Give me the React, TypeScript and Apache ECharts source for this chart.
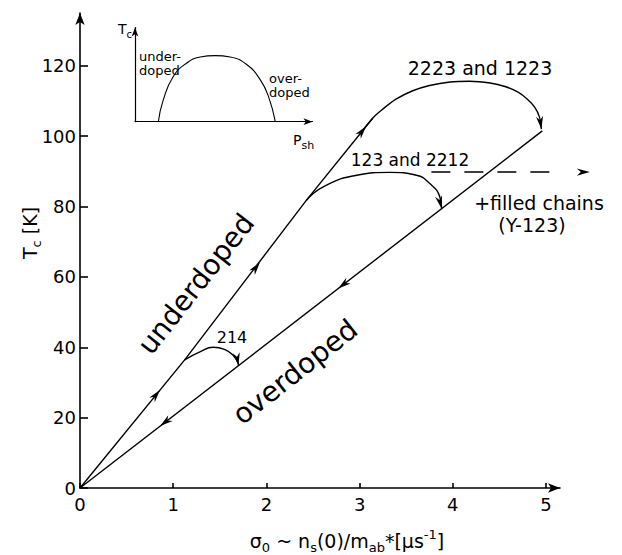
import React, { useEffect, useRef } from 'react';
import * as echarts from 'echarts';

const FONT = 'DejaVu Sans';

// axis ticks / labels
const xTicks = [0, 1, 2, 3, 4, 5];
const yTicks = [0, 20, 40, 60, 80, 100, 120];

// main lines [sigma0, Tc]
const underdopedLine = [[0, 0], [1.123, 36.4], [2.43, 81.8], [3.14, 105.1]];
const overdopedLine = [[4.96, 101.5], [0, 0]];
const curve2223 = [[3.0, 100.5], [3.14, 105.1], [3.24, 107.5], [3.39, 110.5], [3.57, 112.9], [3.75, 114.4], [3.97, 115.4], [4.18, 115.6], [4.40, 115.1], [4.56, 114.1], [4.70, 112.5], [4.80, 110.5], [4.88, 108.2], [4.93, 105.4], [4.95, 102.0]];
const curve123 = [[2.43, 81.8], [2.61, 85.6], [2.97, 88.9], [3.32, 89.7], [3.61, 88.9], [3.75, 86.6], [3.86, 82.8], [3.88, 79.4]];
const curve214 = [[1.123, 36.4], [1.286, 38.7], [1.43, 40.0], [1.55, 39.4], [1.64, 37.8], [1.695, 35.6], [1.70, 34.8]];
const filledChains = [[3.77, 89.8], [5.47, 89.8]];

// arrowheads: [tipX, tipY, fromX, fromY]
const arrowHeads = [
  [0.86, 27.9, 0, 0],
  [1.93, 64.1, 1.123, 36.4],
  [3.07, 102.8, 2.43, 81.8],
  [4.95, 102.0, 4.925, 106.7],
  [3.88, 79.4, 3.845, 83.2],
  [1.70, 34.8, 1.675, 38.6],
  [0.86, 17.6, 1.5, 30.7],
  [2.77, 56.7, 3.5, 71.6],
  [5.47, 89.8, 5.0, 89.8],
];

// inset: Tc vs P_sh dome (arbitrary units)
const insetCurve = [[1.28, 0], [1.55, 2.2], [2.1, 4.56], [2.84, 5.92], [3.57, 6.52], [4.4, 6.66], [5.22, 6.52], [6.14, 5.74], [6.87, 4.22], [7.32, 2.53], [7.69, 0]];

const lineSeries = (data: number[][], smooth: number | boolean, extra: any = {}) => ({
  type: 'line',
  xAxisIndex: 0,
  yAxisIndex: 0,
  data,
  smooth,
  symbol: 'none',
  clip: false,
  silent: true,
  lineStyle: { color: '#000', width: 1.4 },
  ...extra,
});

const rich = (m: number, s: number) => ({
  m: { fontSize: m, fontFamily: FONT, lineHeight: m + 7, verticalAlign: 'middle', color: '#000' },
  s: { fontSize: s, fontFamily: FONT, lineHeight: s + 2, verticalAlign: 'bottom', color: '#000' },
  p: { fontSize: s, fontFamily: FONT, lineHeight: s + 2, verticalAlign: 'top', color: '#000' },
});

const txt = (x: number, y: number, text: string, fontSize: number, extra: any = {}, styleExtra: any = {}) => ({
  type: 'text',
  x,
  y,
  silent: true,
  ...extra,
  style: {
    text,
    fontSize,
    fontFamily: FONT,
    fill: '#000',
    align: 'center',
    verticalAlign: 'middle',
    ...styleExtra,
  },
});

export default function App() {
  const ref = useRef<HTMLDivElement>(null);
  useEffect(() => {
    const chart = echarts.init(ref.current!, null, { renderer: 'svg' });
    const axisLineStyle = { color: '#000', width: 1.6 };
    const option: any = {
      animation: false,
      backgroundColor: '#fff',
      grid: [
        { left: 80, top: 13, width: 480, height: 475, containLabel: false, outerBoundsMode: 'none' },
        { left: 135, top: 27.5, width: 177.5, height: 94.2, containLabel: false, outerBoundsMode: 'none' },
      ],
      xAxis: [
        {
          type: 'value', gridIndex: 0, min: 0, max: 5.15,
          axisLine: { show: true, symbol: ['none', 'arrow'], symbolSize: [7, 12], lineStyle: axisLineStyle },
          axisTick: { show: true, inside: true, length: 5, customValues: xTicks, lineStyle: axisLineStyle },
          axisLabel: { show: true, customValues: xTicks, color: '#000', fontSize: 18, fontFamily: FONT, margin: 7 },
          splitLine: { show: false },
        },
        {
          type: 'value', gridIndex: 1, min: 0, max: 9.73,
          axisLine: { show: true, symbol: ['none', 'arrow'], symbolSize: [5, 9], lineStyle: { color: '#000', width: 1.2 } },
          axisTick: { show: false }, axisLabel: { show: false }, splitLine: { show: false },
        },
      ],
      yAxis: [
        {
          type: 'value', gridIndex: 0, min: 0, max: 135,
          axisLine: { show: true, symbol: ['none', 'arrow'], symbolSize: [7, 12], lineStyle: axisLineStyle },
          axisTick: { show: true, inside: true, length: 8, customValues: yTicks, lineStyle: axisLineStyle },
          axisLabel: { show: true, customValues: yTicks, color: '#000', fontSize: 18, fontFamily: FONT, margin: 4 },
          splitLine: { show: false },
        },
        {
          type: 'value', gridIndex: 1, min: 0, max: 9.5,
          axisLine: { show: true, symbol: ['none', 'arrow'], symbolSize: [5, 9], lineStyle: { color: '#000', width: 1.2 } },
          axisTick: { show: false }, axisLabel: { show: false }, splitLine: { show: false },
        },
      ],
      series: [
        lineSeries(underdopedLine, false),
        lineSeries(overdopedLine, false),
        lineSeries(curve2223, 0.3),
        lineSeries(curve123, 0.5),
        lineSeries(curve214, 0.5),
        lineSeries(filledChains, false, { lineStyle: { color: '#000', width: 1.4, type: [19, 14] } }),
        {
          type: 'line', xAxisIndex: 1, yAxisIndex: 1, data: insetCurve, smooth: 0.5,
          symbol: 'none', silent: true, lineStyle: { color: '#000', width: 1.1 },
        },
        {
          type: 'custom', xAxisIndex: 0, yAxisIndex: 0, clip: false, silent: true,
          data: arrowHeads,
          renderItem: (_p: any, api: any) => {
            const tip = api.coord([api.value(0), api.value(1)]);
            const from = api.coord([api.value(2), api.value(3)]);
            const dx = tip[0] - from[0];
            const dy = tip[1] - from[1];
            const len = Math.hypot(dx, dy) || 1;
            const ux = dx / len, uy = dy / len;
            const px = -uy, py = ux;
            const L = 13, W = 3.6, N = 9;
            return {
              type: 'polygon',
              shape: {
                points: [
                  [tip[0], tip[1]],
                  [tip[0] - L * ux + W * px, tip[1] - L * uy + W * py],
                  [tip[0] - N * ux, tip[1] - N * uy],
                  [tip[0] - L * ux - W * px, tip[1] - L * uy - W * py],
                ],
              },
              style: { fill: '#000' },
            };
          },
        },
      ],
      graphic: [
        txt(480, 68, '2223 and 1223', 19),
        txt(410, 160, '123 and 2212', 17),
        txt(539, 203, '+filled chains', 19),
        txt(532, 225, '(Y-123)', 19),
        txt(232, 337, '214', 16),
        txt(196, 284, 'underdoped', 28, { rotation: (51.8 * Math.PI) / 180 }),
        txt(295, 372, 'overdoped', 28, { rotation: (38.3 * Math.PI) / 180 }),
        txt(30, 233, '{m|T}{s|c}{m| [K]}', 19, { rotation: Math.PI / 2 }, { rich: rich(19, 13) }),
        txt(347, 541, '{m|σ}{s|0}{m| ~ n}{s|s}{m|(0)/m}{s|ab}{m|*[µs}{p|-1}{m|]}', 19, {}, { rich: rich(19, 13) }),
        txt(125, 29, '{m|T}{s|c}', 14, {}, { rich: rich(14, 10) }),
        txt(293, 140, '{m|P}{s|sh}', 14, {}, { rich: rich(14, 11), align: 'left' }),
        txt(139, 56, 'under-', 13, {}, { align: 'left' }),
        txt(139, 70.5, 'doped', 13, {}, { align: 'left' }),
        txt(269, 78, 'over-', 13, {}, { align: 'left' }),
        txt(269, 92, 'doped', 13, {}, { align: 'left' }),
      ],
    };
    chart.setOption(option);
    return () => chart.dispose();
  }, []);
  return <div ref={ref} style={{ position: 'absolute', left: 0, top: 0, width: 622, height: 555 }} />;
}
